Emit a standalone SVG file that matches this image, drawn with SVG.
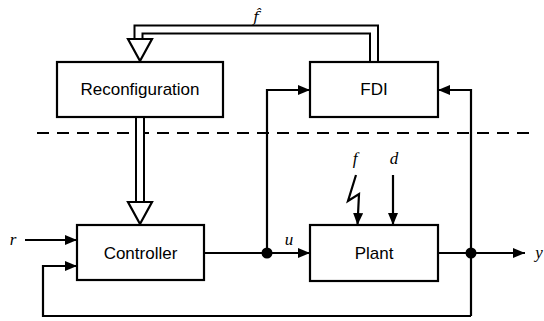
<svg xmlns="http://www.w3.org/2000/svg" width="544" height="321" viewBox="0 0 544 321">
<defs>
<style>
.box{fill:#fff;stroke:#000;stroke-width:2.2}
.lbl{font-family:"Liberation Sans",Arial,sans-serif;font-size:17px;text-anchor:middle;fill:#000}
.math{font-family:"Liberation Serif","Times New Roman",serif;font-style:italic;font-size:17px;text-anchor:middle;fill:#000}
.w{fill:none;stroke:#000;stroke-width:2.2}
.dbl-o{fill:none;stroke:#000;stroke-width:10;stroke-linejoin:miter}
.dbl-i{fill:none;stroke:#fff;stroke-width:6;stroke-linejoin:miter}
</style>
<marker id="ah" viewBox="0 0 12 10" refX="12" refY="5" markerWidth="12" markerHeight="10" markerUnits="userSpaceOnUse" orient="auto">
<path d="M0,0 L12,5 L0,10 Z" fill="#000"/>
</marker>
</defs>
<line x1="37" y1="133" x2="532" y2="133" stroke="#000" stroke-width="2.2" stroke-dasharray="12,8"/>
<g id="connectors">
<path class="dbl-o" d="M374,62 V29.5 H138.5 V40"/>
<path class="dbl-i" d="M374,64 V29.5 H138.5 V42"/>
<path d="M128,39 H152 L140,61 Z" fill="#fff" stroke="#000" stroke-width="2.2" stroke-linejoin="miter"/>
<path class="dbl-o" d="M140,117 V202"/>
<path class="dbl-i" d="M140,116 V204"/>
<path d="M128,202 H152 L140,224 Z" fill="#fff" stroke="#000" stroke-width="2.2"/>
<path class="w" d="M25,240 H77" marker-end="url(#ah)"/>
<path class="w" d="M471,316 H43 V266 H77" marker-end="url(#ah)"/>
<path class="w" d="M204,253 H310" marker-end="url(#ah)"/>
<path class="w" d="M267,253 V90 H310" marker-end="url(#ah)"/>
<path class="w" d="M438,253 H525" marker-end="url(#ah)"/>
<path class="w" d="M471,316 V90 H438" marker-end="url(#ah)"/>
<path class="w" d="M393,175 V225" marker-end="url(#ah)"/>
<path class="w" d="M356,175 L348,201 L359,194 L357.5,225" marker-end="url(#ah)"/>
<circle cx="267" cy="253" r="5.5" fill="#000"/>
<circle cx="471" cy="253" r="5.5" fill="#000"/>
</g>
<g id="reconfiguration"><rect class="box" x="57" y="62" width="166" height="55"/><text class="lbl" x="140" y="95">Reconfiguration</text></g>
<g id="fdi"><rect class="box" x="310" y="62" width="128" height="55"/><text class="lbl" x="374" y="95">FDI</text></g>
<g id="controller"><rect class="box" x="77" y="225" width="127" height="55"/><text class="lbl" x="140.5" y="258.5">Controller</text></g>
<g id="plant"><rect class="box" x="310" y="225" width="128" height="56"/><text class="lbl" x="374" y="259">Plant</text></g>
<text class="math" x="256" y="22" style="font-family:'DejaVu Serif',serif;font-size:15px">f̂</text>
<text class="math" x="13" y="245">r</text>
<text class="math" x="289" y="245">u</text>
<text class="math" x="539" y="258">y</text>
<text class="math" x="355" y="164">f</text>
<text class="math" x="394" y="164">d</text>
</svg>
